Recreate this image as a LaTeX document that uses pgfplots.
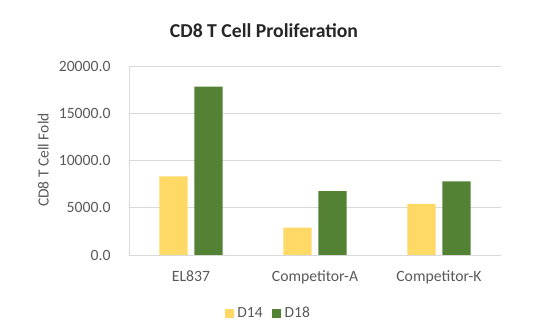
\documentclass[border=0pt]{standalone}
\usepackage{pgfplots}
\pgfplotsset{compat=1.18}
\usepackage{fontspec}
\setmainfont{Carlito}
\definecolor{cyel}{HTML}{FFD966}
\definecolor{cgrn}{HTML}{548235}
\definecolor{ctxt}{HTML}{595959}
\definecolor{cgrid}{HTML}{D9D9D9}
\begin{document}
\begin{tikzpicture}
\path[use as bounding box] (0pt,0pt) rectangle (542pt,332pt);
\begin{axis}[
  at={(129pt,77pt)}, anchor=south west,
  scale only axis, width=372pt, height=188.3pt,
  ybar=6.6pt, bar width=28.4pt,
  xmin=-0.5, xmax=2.5, ymin=0, ymax=20000,
  xtick={0,1,2}, xticklabels={EL837,Competitor-A,Competitor-K},
  ytick={0,5000,10000,15000,20000},
  major tick length=0pt,
  ymajorgrids, grid style={cgrid, line width=0.9pt},
  axis line style={cgrid, line width=0.9pt},
  axis x line*=bottom, axis y line*=left,
  separate axis lines,
  x axis line style={-}, y axis line style={-},
  /pgf/number format/assume math mode=true,
  yticklabel={\pgfmathprintnumber[fixed,fixed zerofill,precision=1,1000 sep={}]{\tick}},
  scaled y ticks=false,
  yticklabel style={anchor=east, inner sep=0pt, xshift=-18.3pt, font=\fontsize{15.7}{18}\selectfont, text=ctxt},
  xticklabel style={anchor=base, inner sep=0pt, yshift=-26.5pt, font=\fontsize{15.7}{18}\selectfont, text=ctxt},
  legend columns=2,
  legend style={at={(axis description cs:0.374,-0.31)}, anchor=center, draw=none, fill=none,
    font=\fontsize{15.5}{18}\selectfont, text=ctxt,
    /tikz/every even column/.append style={column sep=8pt},
    nodes={inner sep=1.5pt}},
  legend image code/.code={\fill[#1] (0pt,-4.5pt) rectangle (9pt,4.5pt); \path (0pt,0pt) -- (11pt,0pt);},
]
\addplot[fill=cyel, draw=none] coordinates {(0,8350) (1,2920) (2,5420)};
\addplot[fill=cgrn, draw=none] coordinates {(0,17880) (1,6780) (2,7810)};
\legend{D14,D18}
\end{axis}
\node[font=\bfseries\fontsize{19.7}{22}\selectfont, text=black!85] at (264pt,301pt) {CD8 T Cell Proliferation};
\node[rotate=90, font=\fontsize{15.5}{18}\selectfont, text=ctxt] at (43.3pt,172pt) {CD8 T Cell Fold};
\end{tikzpicture}
\end{document}
